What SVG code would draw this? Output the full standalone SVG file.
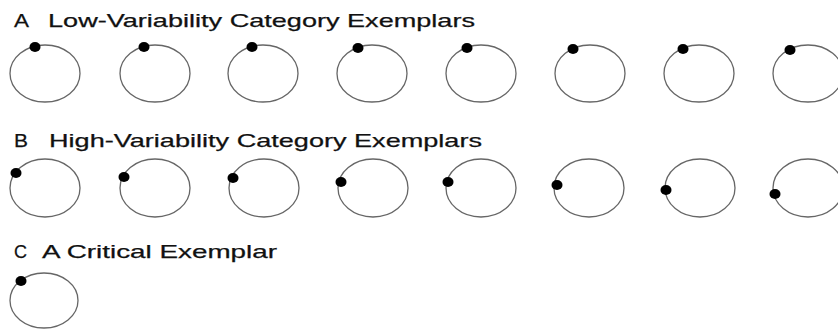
<svg xmlns="http://www.w3.org/2000/svg" width="838" height="329" viewBox="0 0 838 329">
<style>
.lbl{font-family:"Liberation Sans",Arial,sans-serif;font-size:19px;fill:#111;stroke:#111;stroke-width:0.25}
.ring{fill:none;stroke:#666;stroke-width:1.3}
.dot{fill:#000}
</style>
<rect width="838" height="329" fill="#fff"/>
<g id="titleA">
<text class="lbl" x="14" y="27" textLength="15" lengthAdjust="spacingAndGlyphs">A</text>
<text class="lbl" x="48" y="27" textLength="427" lengthAdjust="spacingAndGlyphs">Low-Variability Category Exemplars</text>
</g>
<g id="rowA">
<g id="a1"><ellipse class="ring" cx="45" cy="73.5" rx="35" ry="28.5"/><ellipse class="dot" cx="35" cy="47" rx="5.5" ry="5"/></g>
<g id="a2"><ellipse class="ring" cx="155" cy="73.5" rx="35" ry="28.5"/><ellipse class="dot" cx="144" cy="47" rx="5.5" ry="5"/></g>
<g id="a3"><ellipse class="ring" cx="263" cy="73.5" rx="35" ry="28.5"/><ellipse class="dot" cx="252" cy="47" rx="5.5" ry="5"/></g>
<g id="a4"><ellipse class="ring" cx="372" cy="73.5" rx="35" ry="28.5"/><ellipse class="dot" cx="358" cy="48" rx="5.5" ry="5"/></g>
<g id="a5"><ellipse class="ring" cx="481" cy="73.5" rx="35" ry="28.5"/><ellipse class="dot" cx="467" cy="48" rx="5.5" ry="5"/></g>
<g id="a6"><ellipse class="ring" cx="590" cy="73.5" rx="35" ry="28.5"/><ellipse class="dot" cx="573" cy="49" rx="5.5" ry="5"/></g>
<g id="a7"><ellipse class="ring" cx="699" cy="73.5" rx="35" ry="28.5"/><ellipse class="dot" cx="683" cy="49" rx="5.5" ry="5"/></g>
<g id="a8"><ellipse class="ring" cx="808" cy="73.5" rx="35" ry="28.5"/><ellipse class="dot" cx="790" cy="50" rx="5.5" ry="5"/></g>
</g>
<g id="titleB">
<text class="lbl" x="14" y="147" textLength="14" lengthAdjust="spacingAndGlyphs">B</text>
<text class="lbl" x="49" y="147" textLength="433" lengthAdjust="spacingAndGlyphs">High-Variability Category Exemplars</text>
</g>
<g id="rowB">
<g id="b1"><ellipse class="ring" cx="45" cy="188" rx="35" ry="29"/><ellipse class="dot" cx="16" cy="173" rx="5.5" ry="5"/></g>
<g id="b2"><ellipse class="ring" cx="155" cy="188" rx="35" ry="29"/><ellipse class="dot" cx="124" cy="177" rx="5.5" ry="5"/></g>
<g id="b3"><ellipse class="ring" cx="264" cy="188" rx="35" ry="29"/><ellipse class="dot" cx="233" cy="178" rx="5.5" ry="5"/></g>
<g id="b4"><ellipse class="ring" cx="373" cy="188" rx="35" ry="29"/><ellipse class="dot" cx="341" cy="182" rx="5.5" ry="5"/></g>
<g id="b5"><ellipse class="ring" cx="481" cy="188" rx="35" ry="29"/><ellipse class="dot" cx="448" cy="182" rx="5.5" ry="5"/></g>
<g id="b6"><ellipse class="ring" cx="589" cy="188" rx="35" ry="29"/><ellipse class="dot" cx="557" cy="185" rx="5.5" ry="5"/></g>
<g id="b7"><ellipse class="ring" cx="700" cy="188" rx="35" ry="29"/><ellipse class="dot" cx="666" cy="190" rx="5.5" ry="5"/></g>
<g id="b8"><ellipse class="ring" cx="808" cy="188" rx="35" ry="29"/><ellipse class="dot" cx="775" cy="194" rx="5.5" ry="5"/></g>
</g>
<g id="titleC">
<text class="lbl" x="14" y="258" textLength="13" lengthAdjust="spacingAndGlyphs">C</text>
<text class="lbl" x="42" y="258" textLength="235" lengthAdjust="spacingAndGlyphs">A Critical Exemplar</text>
</g>
<g id="rowC">
<g id="c1"><ellipse class="ring" cx="44" cy="300.5" rx="34" ry="27.5"/><ellipse class="dot" cx="21" cy="281" rx="5.5" ry="5"/></g>
</g>
</svg>
